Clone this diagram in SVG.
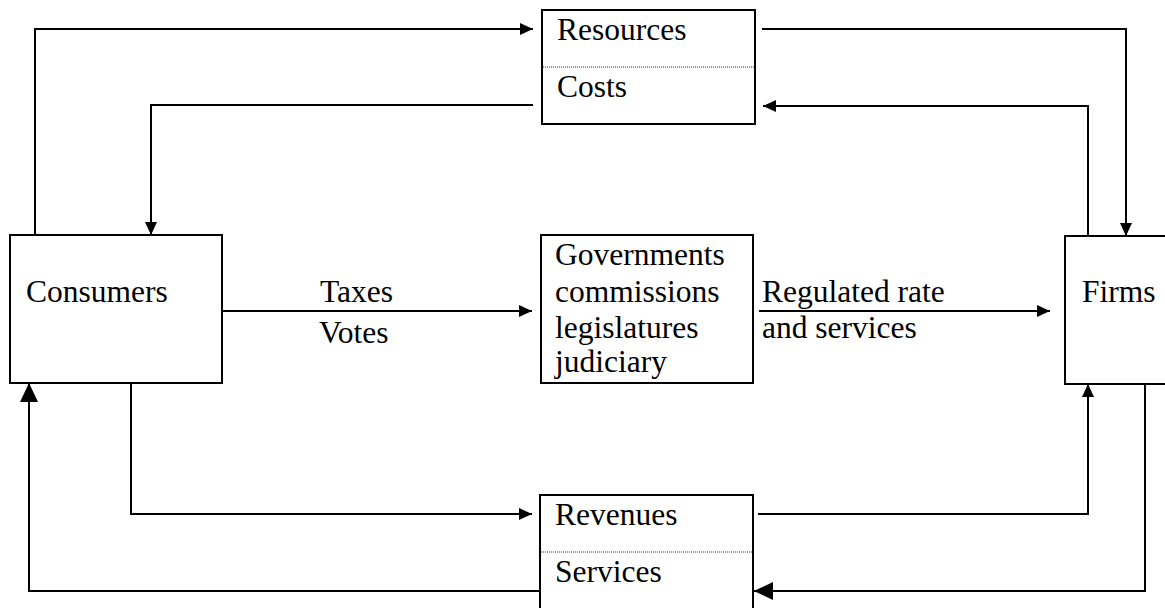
<svg xmlns="http://www.w3.org/2000/svg" width="1165" height="608" viewBox="0 0 1165 608">
  <style>
    .box { fill: #ffffff; stroke: #000000; stroke-width: 2; }
    .sep { stroke: #333333; stroke-width: 1; stroke-dasharray: 1 1; fill: none; }
    .lbl { font-family: "Liberation Serif", "Times New Roman", serif; font-size: 31.5px; fill: #000000; }
    .wire { fill: none; stroke: #000000; stroke-width: 2; }
  </style>
  <defs>
    <marker id="arrow" viewBox="0 0 13 12" refX="13" refY="6" markerWidth="13" markerHeight="12" markerUnits="userSpaceOnUse" orient="auto">
      <path d="M0,0 L13,6 L0,12 Z" fill="#000000"/>
    </marker>
    <marker id="arrowBig" viewBox="0 0 19 18" refX="19" refY="9" markerWidth="19" markerHeight="18" markerUnits="userSpaceOnUse" orient="auto">
      <path d="M0,0 L19,9 L0,18 Z" fill="#000000"/>
    </marker>
  </defs>

  <rect width="1165" height="608" fill="#ffffff"/>

  <!-- flows between the parties -->
  <g id="connectors">
    <!-- consumers supply resources -->
    <path class="wire" d="M35,237 V29 H533" marker-end="url(#arrow)"/>
    <path class="wire" d="M762,29 H1126 V236" marker-end="url(#arrow)"/>
    <!-- firms pay costs -->
    <path class="wire" d="M1088,236 V106 H763" marker-end="url(#arrow)"/>
    <path class="wire" d="M533,105 H151 V235" marker-end="url(#arrow)"/>
    <!-- taxes and votes to government -->
    <path class="wire" d="M188,311 H532" marker-end="url(#arrow)"/>
    <!-- regulation to firms -->
    <path class="wire" d="M759,311 H1050" marker-end="url(#arrow)"/>
    <!-- consumers pay revenues -->
    <path class="wire" d="M131,383 V514 H532" marker-end="url(#arrow)"/>
    <path class="wire" d="M758,514 H1088 V384" marker-end="url(#arrow)"/>
    <!-- firms deliver services -->
    <path class="wire" d="M1145,384 V591 H754" marker-end="url(#arrowBig)"/>
    <path class="wire" d="M543,591 H29 V383" marker-end="url(#arrowBig)"/>
  </g>

  <g id="resources-costs">
    <rect class="box" x="542" y="10" width="213" height="114"/>
    <line class="sep" x1="543" y1="67" x2="754" y2="67"/>
    <text class="lbl" x="557" y="40">Resources</text>
    <text class="lbl" x="557" y="97">Costs</text>
  </g>

  <g id="consumers">
    <rect class="box" x="10" y="235" width="212" height="148"/>
    <text class="lbl" x="26" y="302">Consumers</text>
  </g>

  <g id="government">
    <rect class="box" x="541" y="235" width="212" height="148"/>
    <text class="lbl" x="555" y="265">Governments</text>
    <text class="lbl" x="555" y="302">commissions</text>
    <text class="lbl" x="555" y="338">legislatures</text>
    <text class="lbl" x="555" y="372">judiciary</text>
  </g>

  <g id="taxes-label">
    <text class="lbl" x="320" y="302">Taxes</text>
    <text class="lbl" x="319" y="343">Votes</text>
  </g>

  <g id="regulation-label">
    <text class="lbl" x="762" y="302">Regulated rate</text>
    <text class="lbl" x="762" y="338">and services</text>
  </g>

  <g id="firms">
    <rect class="box" x="1065" y="236" width="130" height="148"/>
    <text class="lbl" x="1082" y="302">Firms</text>
  </g>

  <g id="revenues-services">
    <rect class="box" x="540" y="495" width="213" height="130"/>
    <line class="sep" x1="541" y1="552" x2="752" y2="552"/>
    <text class="lbl" x="555" y="525">Revenues</text>
    <text class="lbl" x="555" y="582">Services</text>
  </g>
</svg>
